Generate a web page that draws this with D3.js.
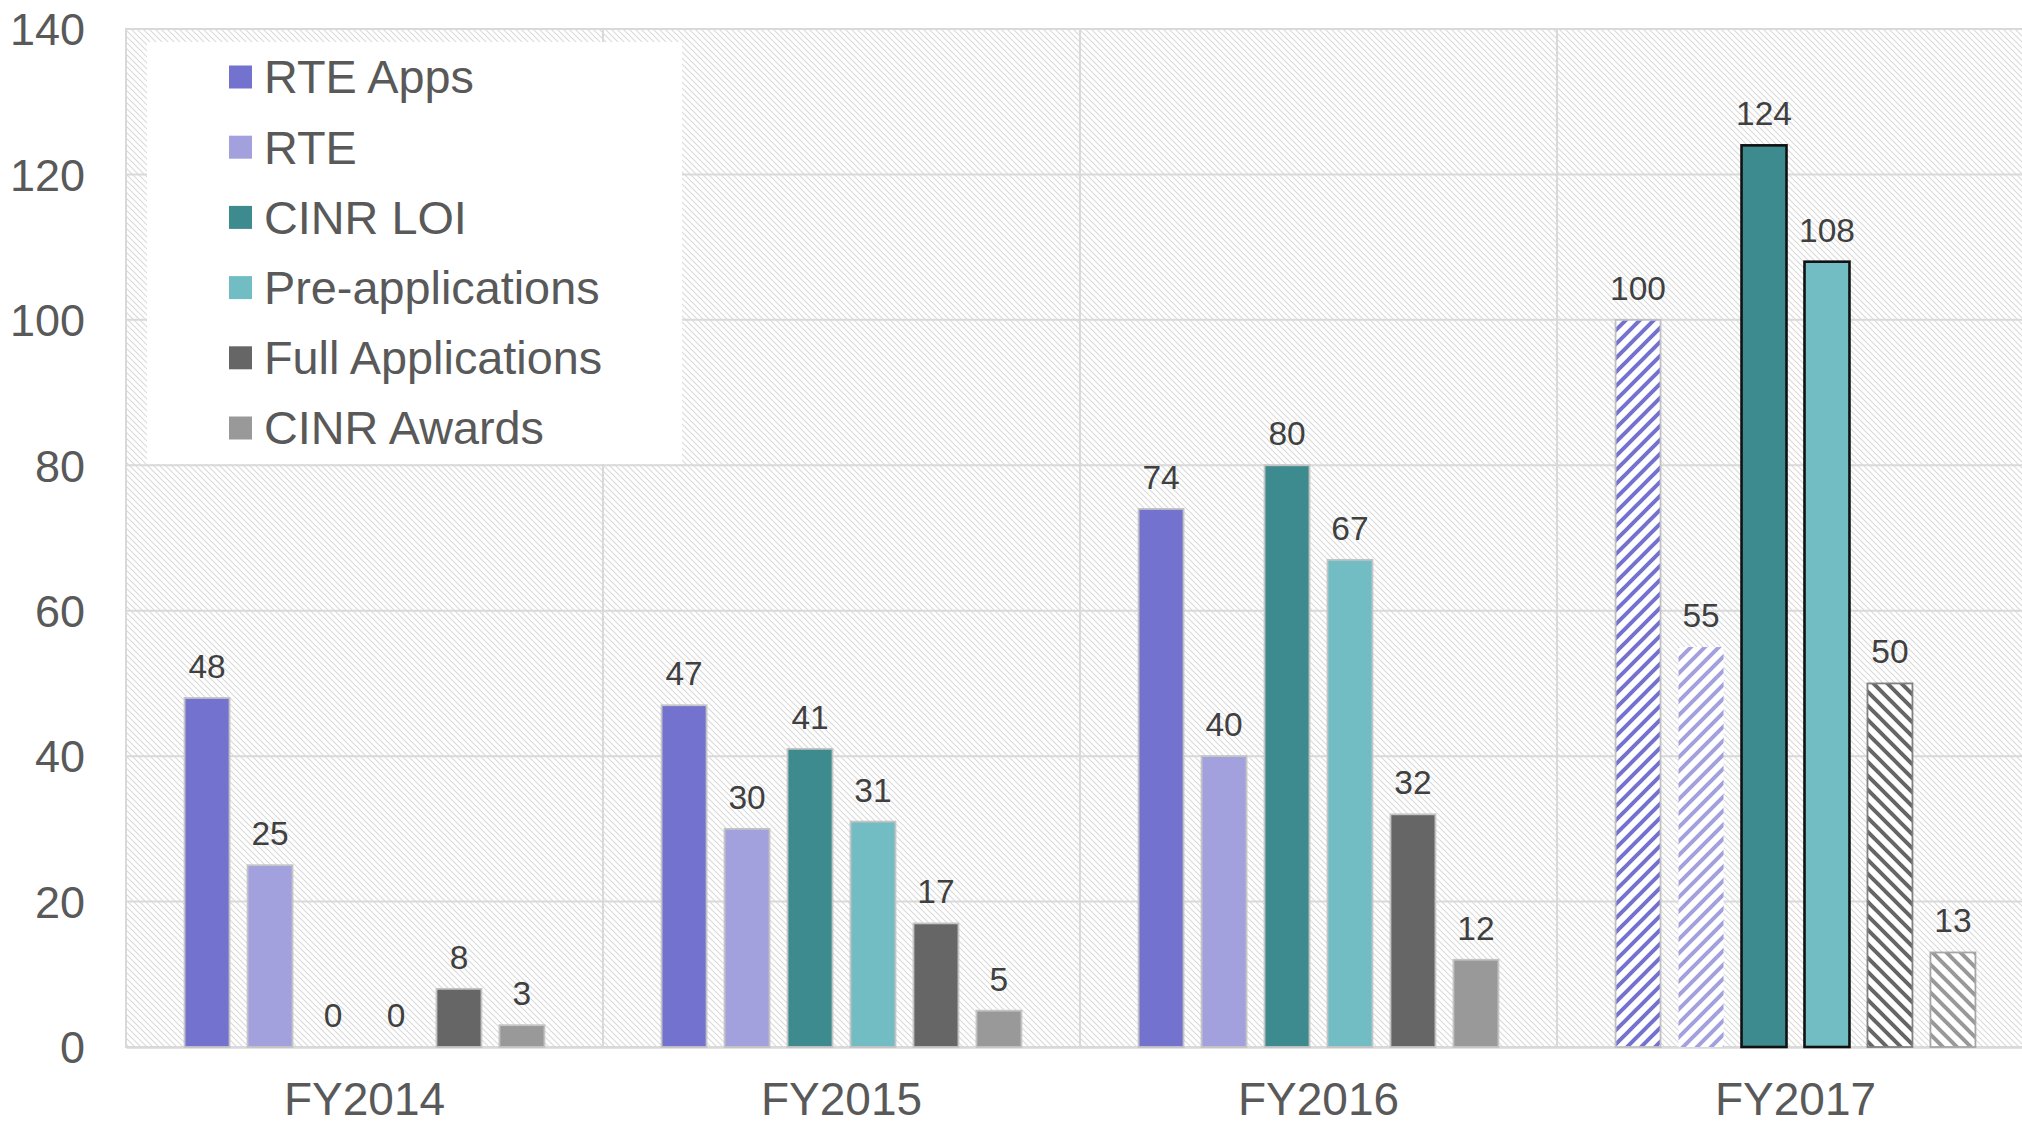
<!DOCTYPE html>
<html>
<head>
<meta charset="utf-8">
<script src="https://cdn.jsdelivr.net/npm/d3@7"></script>
<style>
  html, body { margin: 0; padding: 0; background: #ffffff; }
  svg { display: block; }
  text { font-family: "Liberation Sans", Arial, sans-serif; }
</style>
</head>
<body>
<svg id="chart" width="2022" height="1124"></svg>
<script>
// ---- data ----
const categories = ["FY2014", "FY2015", "FY2016", "FY2017"];
const seriesNames = ["RTE Apps", "RTE", "CINR LOI", "Pre-applications", "Full Applications", "CINR Awards"];
const rteApps = [48, 47, 74, 100];
const rte = [25, 30, 40, 55];
const cinrLoi = [0, 41, 80, 124];
const preApplications = [0, 31, 67, 108];
const fullApplications = [8, 17, 32, 50];
const cinrAwards = [3, 5, 12, 13];
const yTicks = [0, 20, 40, 60, 80, 100, 120, 140];

const seriesValues = [rteApps, rte, cinrLoi, preApplications, fullApplications, cinrAwards];

// ---- styling (kept separate from the data) ----
const colors = ["#7472cf", "#a3a0de", "#3d8a8f", "#71bdc3", "#666666", "#999999"];
const hatchedCategory = "FY2017";
const hatchDir = ["up", "up", null, null, "down", "down"];
const hatchBorder = ["#c0c0c0", "none", "#111111", "#111111", "#808080", "#a6a6a6"];

const svg = d3.select("#chart");
const M = { left: 126, top: 29, bottom: 1047, right: 2034 };

const defs = svg.append("defs");
// background hatch
const bg = defs.append("pattern").attr("id", "bgHatch")
  .attr("patternUnits", "userSpaceOnUse").attr("width", 6).attr("height", 6);
bg.append("rect").attr("width", 6).attr("height", 6).attr("fill", "#ffffff");
bg.append("path").attr("d", "M-1,-1 L7,7 M-7,-1 L1,7 M5,-1 L13,7")
  .attr("stroke", "#dadada").attr("stroke-width", 1.1);

// bar hatches
const T = 14;
seriesNames.forEach((s, i) => {
  if (!hatchDir[i]) return;
  const p = defs.append("pattern").attr("id", "hatch" + i)
    .attr("patternUnits", "userSpaceOnUse").attr("width", T).attr("height", T);
  p.append("rect").attr("width", T).attr("height", T).attr("fill", "#ffffff");
  const d = hatchDir[i] === "up"
    ? `M-3,${T + 3} L${T + 3},-3 M-3,3 L3,-3 M${T - 3},${T + 3} L${T + 3},${T - 3}`
    : `M-3,-3 L${T + 3},${T + 3} M${-T - 3},-3 L3,${T + 3} M${T - 3},-3 L${2 * T + 3},${T + 3}`;
  p.append("path").attr("d", d).attr("stroke", colors[i]).attr("stroke-width", 4);
});

// ---- scales ----
const x = d3.scaleBand().domain(categories).range([M.left, M.right]).padding(0);
const xs = d3.scaleBand().domain(seriesNames).range([0, x.bandwidth()])
  .paddingInner(18 / 63).paddingOuter(0.93);
const y = d3.scaleLinear().domain([0, 140]).range([M.bottom, M.top]);

// plot background
svg.append("rect").attr("x", M.left).attr("y", M.top)
  .attr("width", M.right - M.left).attr("height", M.bottom - M.top)
  .attr("fill", "url(#bgHatch)").attr("stroke", "#d9d9d9").attr("stroke-width", 2);

// horizontal gridlines
svg.append("g").selectAll("line").data(yTicks).join("line")
  .attr("x1", M.left).attr("x2", M.right)
  .attr("y1", d => y(d)).attr("y2", d => y(d))
  .attr("stroke", "#d9d9d9").attr("stroke-width", 2);

// vertical category separators
svg.append("g").selectAll("line").data(categories.slice(1)).join("line")
  .attr("x1", d => x(d)).attr("x2", d => x(d))
  .attr("y1", M.top).attr("y2", M.bottom)
  .attr("stroke", "#d9d9d9").attr("stroke-width", 2);

// y axis
const yAxis = svg.append("g").attr("transform", `translate(${M.left},0)`)
  .call(d3.axisLeft(y).tickValues(yTicks).tickSize(0).tickPadding(41).tickFormat(d3.format("d")));
yAxis.select(".domain").remove();
yAxis.selectAll("text").attr("font-size", 45).attr("fill", "#595959")
  .attr("font-family", "Liberation Sans, Arial, sans-serif").attr("dy", "0.35em");

// x axis
const xAxis = svg.append("g").attr("transform", `translate(0,${M.bottom})`)
  .call(d3.axisBottom(x).tickSize(0).tickPadding(35));
xAxis.select(".domain").attr("stroke", "#d9d9d9").attr("stroke-width", 2.5);
xAxis.selectAll("text").attr("font-size", 46).attr("fill", "#595959")
  .attr("font-family", "Liberation Sans, Arial, sans-serif").attr("dy", "0.71em");

// legend box
const legendBox = { x: 147, y: 42, w: 535, h: 422 };
svg.append("rect").attr("x", legendBox.x).attr("y", legendBox.y)
  .attr("width", legendBox.w).attr("height", legendBox.h).attr("fill", "#ffffff");

// bars
const flat = [];
categories.forEach((c, ci) => seriesNames.forEach((s, si) => flat.push({ c, s, si, v: seriesValues[si][ci] })));

const bars = svg.append("g");
bars.selectAll("rect").data(flat).join("rect")
  .attr("x", d => x(d.c) + xs(d.s))
  .attr("width", xs.bandwidth())
  .attr("y", d => y(d.v))
  .attr("height", d => y(0) - y(d.v))
  .attr("fill", d => (d.c === hatchedCategory && hatchDir[d.si]) ? `url(#hatch${d.si})` : colors[d.si])
  .attr("stroke", d => d.v === 0 ? "none" : (d.c === hatchedCategory ? hatchBorder[d.si] : "#c4c4c4"))
  .attr("stroke-width", d => d.c === hatchedCategory && (d.si === 2 || d.si === 3) ? 2.6 : 1.8);

// data labels
svg.append("g").selectAll("text").data(flat).join("text")
  .attr("x", d => x(d.c) + xs(d.s) + xs.bandwidth() / 2)
  .attr("y", d => y(d.v) - 20)
  .attr("text-anchor", "middle")
  .attr("font-size", 33.5).attr("fill", "#404040")
  .text(d => d.v);

// legend
const lg = svg.append("g");
const legendY0 = 77, legendStep = 70.2;
seriesNames.forEach((s, i) => {
  const cy = legendY0 + i * legendStep;
  lg.append("rect").attr("x", 229).attr("y", cy - 11.5).attr("width", 23).attr("height", 23)
    .attr("fill", colors[i]);
  lg.append("text").attr("x", 264).attr("y", cy).attr("dy", "0.35em")
    .attr("font-size", 46.8).attr("fill", "#595959").text(s);
});
</script>
</body>
</html>
